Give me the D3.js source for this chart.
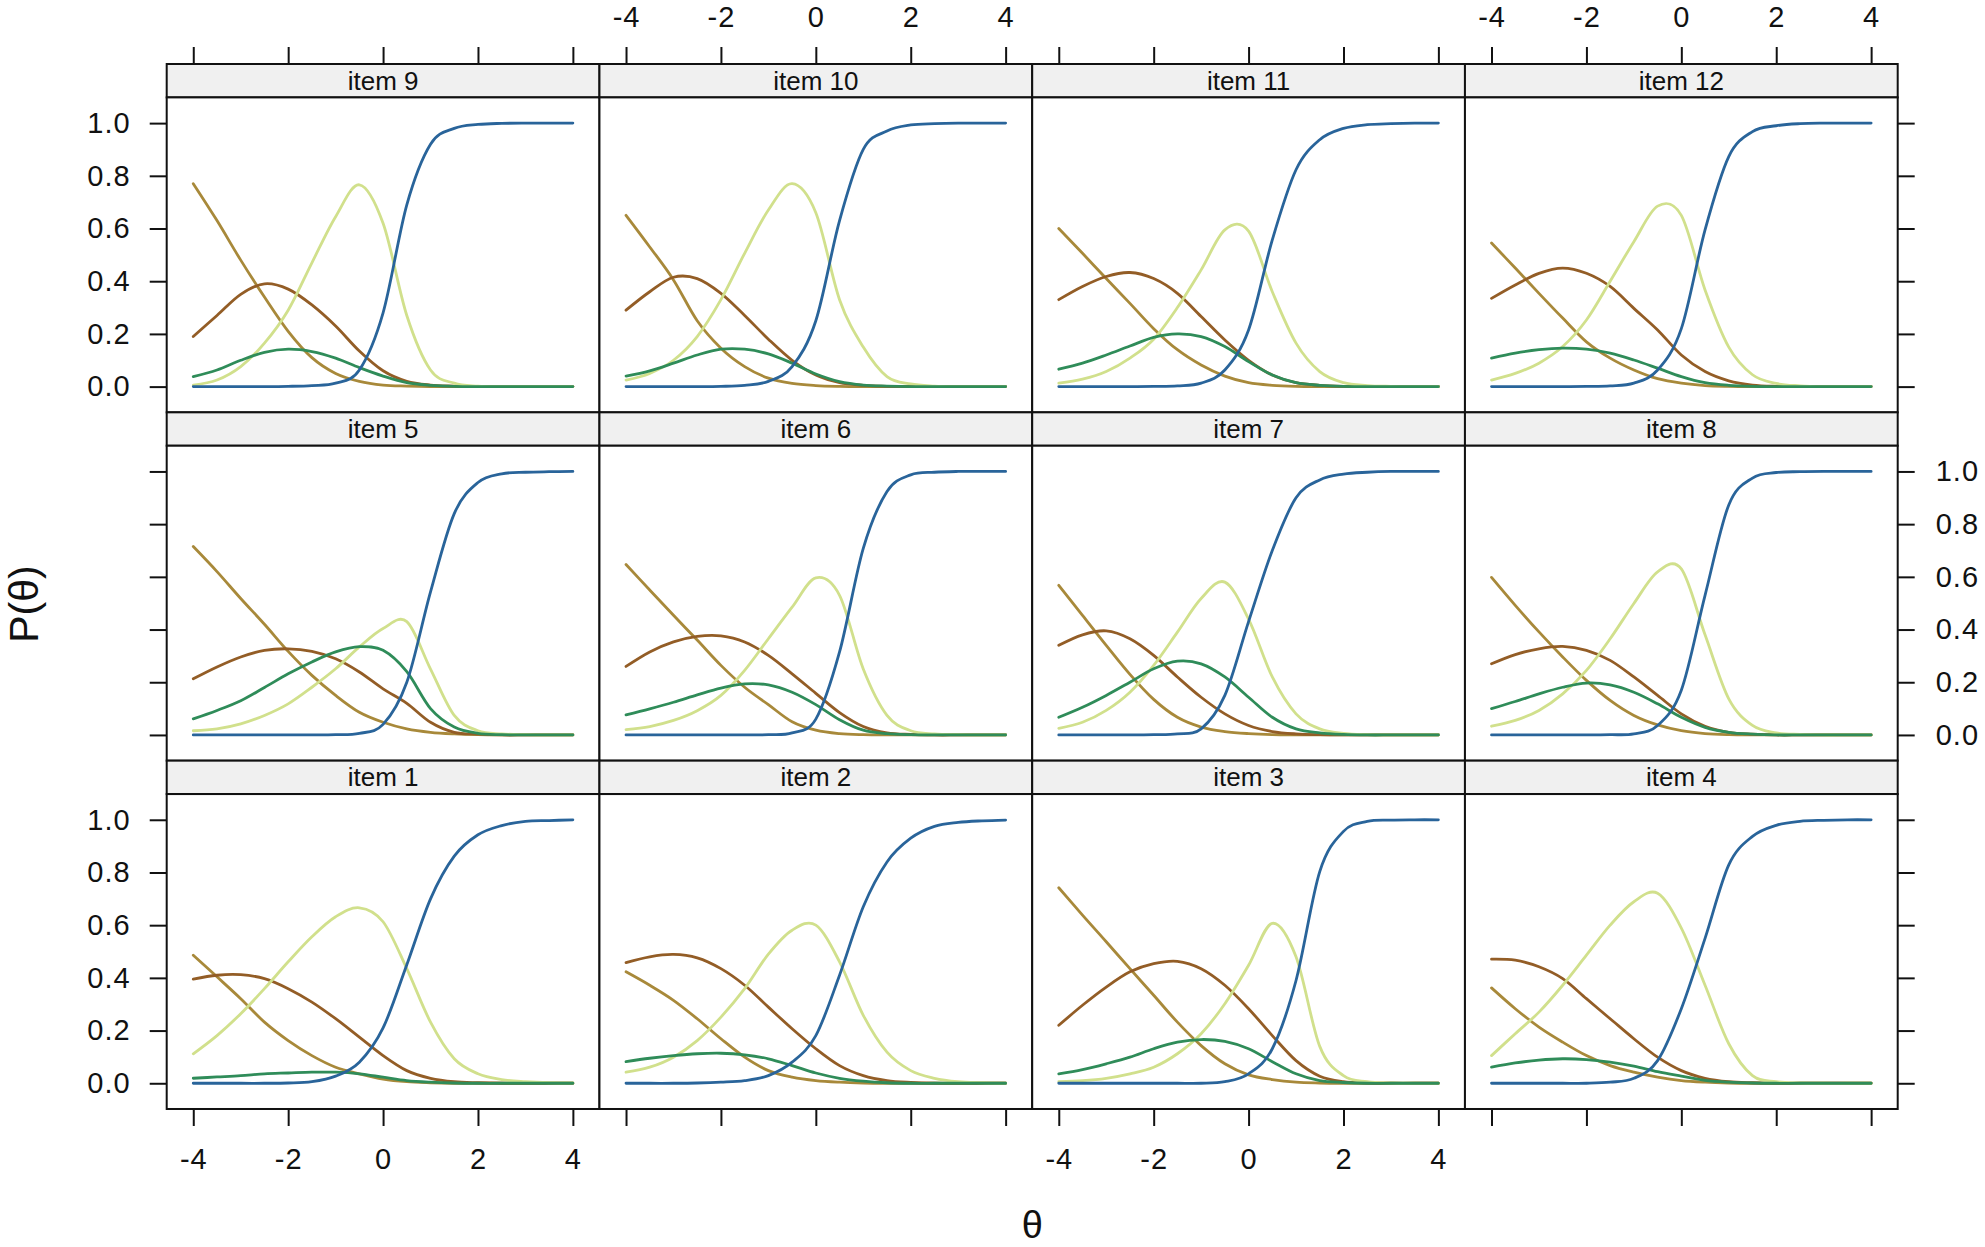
<!DOCTYPE html>
<html><head><meta charset="utf-8">
<script src="https://cdn.jsdelivr.net/npm/d3@7"></script>
<style>
body{margin:0;background:#fff;}
svg{display:block;}
text{font-family:"Liberation Sans",Arial,Helvetica,sans-serif;fill:#111;}
</style>
</head><body>
<svg id="chart" width="1985" height="1247"></svg>
<script>
// theta grid shared by all curves
const theta = [-4,-3.5,-3,-2.5,-2,-1.5,-1,-0.5,0,0.5,1,1.5,2,2.5,3,3.5,4];
// response categories and their colours
const categories = ["cat0","cat1","cat2","cat3","cat4"];
const categoryColors = ["#a8893a","#935d26","#2f8c59","#d1e08c","#29649a"];
const drawOrder = [0,1,3,2,4];
// panel layout, top row first
const layoutRows = [["item 9","item 10","item 11","item 12"],["item 5","item 6","item 7","item 8"],["item 1","item 2","item 3","item 4"]];
const xTicks = [-4,-2,0,2,4];
const yTicks = [0,0.2,0.4,0.6,0.8,1.0];

// each item: [cat0, cat1, cat2, cat3, cat4] probabilities at theta
const item1 = [
 [0.486,0.404,0.321,0.232,0.162,0.105,0.061,0.036,0.016,0.006,0.002,0,0,0,0,0,0],
 [0.395,0.41,0.412,0.397,0.359,0.308,0.245,0.175,0.105,0.048,0.019,0.006,0.002,0,0,0,0],
 [0.019,0.024,0.029,0.036,0.039,0.042,0.042,0.036,0.023,0.01,0.004,0.001,0,0,0,0,0],
 [0.112,0.181,0.264,0.359,0.461,0.556,0.632,0.666,0.613,0.435,0.232,0.093,0.036,0.014,0.006,0.002,0.001],
 [0,0,0,0,0.001,0.006,0.027,0.08,0.21,0.45,0.7,0.862,0.943,0.978,0.994,0.997,1]];
const item2 = [
 [0.423,0.372,0.315,0.245,0.169,0.099,0.048,0.023,0.01,0.004,0.001,0,0,0,0,0,0],
 [0.458,0.48,0.489,0.476,0.435,0.372,0.289,0.207,0.131,0.067,0.029,0.01,0.003,0,0,0,0],
 [0.082,0.095,0.105,0.112,0.114,0.108,0.093,0.067,0.039,0.019,0.008,0.002,0,0,0,0,0],
 [0.042,0.061,0.099,0.162,0.251,0.359,0.49,0.581,0.6,0.461,0.258,0.118,0.048,0.019,0.006,0.002,0],
 [0,0,0,0.001,0.004,0.01,0.029,0.08,0.181,0.41,0.67,0.84,0.93,0.975,0.99,0.996,0.999]];
const item3 = [
 [0.742,0.638,0.537,0.435,0.334,0.232,0.143,0.074,0.032,0.014,0.004,0.001,0,0,0,0,0],
 [0.22,0.296,0.365,0.423,0.454,0.463,0.435,0.372,0.283,0.181,0.086,0.027,0.006,0.001,0,0,0],
 [0.036,0.052,0.074,0.099,0.131,0.156,0.166,0.159,0.131,0.082,0.036,0.01,0.003,0,0,0,0],
 [0.006,0.01,0.019,0.036,0.061,0.112,0.188,0.302,0.448,0.607,0.48,0.14,0.029,0.006,0.001,0,0],
 [0,0,0,0,0,0,0,0.006,0.036,0.131,0.39,0.803,0.956,0.994,0.999,1,1]];
const item4 = [
 [0.362,0.283,0.213,0.156,0.105,0.067,0.042,0.023,0.01,0.004,0.001,0,0,0,0,0,0],
 [0.471,0.467,0.442,0.397,0.321,0.245,0.169,0.099,0.048,0.019,0.006,0.002,0,0,0,0,0],
 [0.061,0.077,0.088,0.093,0.09,0.08,0.065,0.044,0.027,0.011,0.004,0.001,0,0,0,0,0],
 [0.105,0.188,0.27,0.372,0.486,0.6,0.689,0.721,0.589,0.372,0.15,0.029,0.006,0.001,0,0,0],
 [0,0,0,0,0,0.004,0.019,0.086,0.283,0.55,0.829,0.937,0.979,0.994,0.998,1,1]];
const item5 = [
 [0.715,0.62,0.518,0.42,0.317,0.226,0.15,0.086,0.048,0.023,0.01,0.004,0.001,0,0,0,0],
 [0.213,0.258,0.296,0.321,0.327,0.317,0.289,0.239,0.175,0.12,0.048,0.01,0.003,0,0,0,0],
 [0.061,0.093,0.13,0.18,0.232,0.277,0.315,0.335,0.321,0.24,0.1,0.03,0.006,0.001,0,0,0],
 [0.016,0.023,0.042,0.074,0.118,0.181,0.251,0.334,0.404,0.43,0.25,0.074,0.016,0.004,0.001,0,0],
 [0,0,0,0,0,0,0.001,0.006,0.04,0.2,0.543,0.84,0.958,0.991,0.997,0.999,1]];
const item6 = [
 [0.647,0.55,0.454,0.36,0.264,0.181,0.115,0.05,0.018,0.005,0.001,0,0,0,0,0,0],
 [0.26,0.315,0.353,0.374,0.376,0.353,0.302,0.232,0.158,0.085,0.032,0.008,0.002,0,0,0,0],
 [0.076,0.099,0.124,0.152,0.178,0.194,0.19,0.162,0.115,0.058,0.018,0.005,0.001,0,0,0,0],
 [0.02,0.032,0.055,0.092,0.15,0.245,0.365,0.485,0.596,0.53,0.25,0.074,0.016,0.004,0.001,0,0],
 [0,0,0,0,0,0,0.001,0.008,0.06,0.315,0.708,0.924,0.987,0.997,1,1,1]];
const item7 = [
 [0.568,0.454,0.34,0.23,0.135,0.067,0.03,0.013,0.005,0.001,0,0,0,0,0,0,0],
 [0.34,0.38,0.395,0.365,0.302,0.22,0.143,0.08,0.036,0.013,0.004,0.001,0,0,0,0,0],
 [0.067,0.105,0.15,0.2,0.251,0.28,0.27,0.22,0.143,0.067,0.023,0.008,0.002,0,0,0,0],
 [0.025,0.048,0.093,0.162,0.264,0.39,0.518,0.58,0.44,0.22,0.08,0.023,0.006,0.001,0,0,0],
 [0,0,0,0,0.001,0.004,0.023,0.15,0.43,0.7,0.9,0.968,0.99,0.997,1,1,1]];
const item8 = [
 [0.598,0.492,0.391,0.296,0.207,0.131,0.074,0.038,0.016,0.005,0.001,0,0,0,0,0,0],
 [0.27,0.305,0.327,0.336,0.321,0.283,0.22,0.15,0.08,0.033,0.01,0.003,0,0,0,0,0],
 [0.1,0.127,0.156,0.181,0.197,0.19,0.162,0.118,0.067,0.029,0.01,0.003,0,0,0,0,0],
 [0.033,0.055,0.093,0.156,0.245,0.365,0.499,0.619,0.63,0.38,0.137,0.036,0.008,0.002,0,0,0],
 [0,0,0,0,0,0.001,0.004,0.036,0.17,0.53,0.873,0.975,0.996,0.999,1,1,1]];
const item9 = [
 [0.77,0.63,0.48,0.34,0.21,0.11,0.05,0.02,0.006,0.002,0,0,0,0,0,0,0],
 [0.19,0.27,0.35,0.39,0.37,0.31,0.23,0.135,0.06,0.02,0.006,0.002,0,0,0,0,0],
 [0.038,0.063,0.1,0.13,0.142,0.133,0.108,0.072,0.04,0.015,0.005,0.001,0,0,0,0,0],
 [0.006,0.025,0.076,0.165,0.29,0.47,0.645,0.766,0.62,0.27,0.063,0.013,0.002,0,0,0,0],
 [0,0,0,0,0.001,0.004,0.013,0.063,0.28,0.69,0.92,0.98,0.995,0.999,1,1,1]];
const item10 = [
 [0.65,0.53,0.405,0.25,0.146,0.076,0.032,0.012,0.004,0.001,0,0,0,0,0,0,0],
 [0.29,0.36,0.415,0.41,0.354,0.27,0.18,0.1,0.044,0.015,0.005,0.001,0,0,0,0,0],
 [0.04,0.06,0.089,0.12,0.142,0.142,0.124,0.089,0.048,0.019,0.006,0.002,0,0,0,0,0],
 [0.025,0.05,0.1,0.19,0.33,0.506,0.67,0.77,0.66,0.33,0.15,0.038,0.01,0.002,0,0,0],
 [0,0,0,0,0.001,0.005,0.02,0.076,0.25,0.63,0.9,0.97,0.993,0.998,1,1,1]];
const item11 = [
 [0.6,0.506,0.41,0.316,0.22,0.14,0.082,0.04,0.015,0.005,0.001,0,0,0,0,0,0],
 [0.33,0.38,0.418,0.433,0.41,0.354,0.266,0.177,0.1,0.044,0.015,0.005,0.001,0,0,0,0],
 [0.066,0.089,0.12,0.154,0.187,0.2,0.19,0.152,0.095,0.044,0.015,0.005,0.001,0,0,0,0],
 [0.013,0.028,0.057,0.108,0.18,0.3,0.443,0.595,0.59,0.36,0.165,0.057,0.015,0.004,0.001,0,0],
 [0,0,0,0,0.001,0.003,0.013,0.063,0.215,0.557,0.823,0.937,0.98,0.994,0.998,1,1]];
const item12 = [
 [0.545,0.45,0.354,0.26,0.17,0.108,0.063,0.03,0.013,0.004,0.001,0,0,0,0,0,0],
 [0.335,0.386,0.43,0.45,0.43,0.38,0.297,0.215,0.12,0.057,0.022,0.006,0.001,0,0,0,0],
 [0.108,0.127,0.14,0.146,0.142,0.127,0.101,0.07,0.038,0.015,0.005,0.001,0,0,0,0,0],
 [0.025,0.05,0.089,0.152,0.253,0.4,0.55,0.685,0.65,0.367,0.15,0.045,0.012,0.003,0,0,0],
 [0,0,0,0,0.001,0.003,0.013,0.063,0.22,0.595,0.873,0.968,0.99,0.998,1,1,1]];

const itemData = {"item 1":item1,"item 2":item2,"item 3":item3,"item 4":item4,"item 5":item5,"item 6":item6,
  "item 7":item7,"item 8":item8,"item 9":item9,"item 10":item10,"item 11":item11,"item 12":item12};

const svg = d3.select("#chart");
const left0 = 166.7, colW = 432.75, top0 = 64, rowH = 348.33, stripH = 33.4, panelH = rowH - stripH;
const nRows = layoutRows.length, nCols = layoutRows[0].length;

const x = d3.scaleLinear().domain([-4.56, 4.56]).range([0, colW]);
const y = d3.scaleLinear().domain([-0.0976, 1.0976]).range([panelH, 0]);
const line = d3.line().x((d,i)=>x(theta[i])).y(d=>y(d)).curve(d3.curveCardinal.tension(0));

const tickFont = 29, tickLen = 17;
const fmtX = d => String(d);           // plain hyphen-minus like the original
const fmtY = d => d.toFixed(1);
function styleAxis(g){
  g.select(".domain").remove();
  g.selectAll(".tick line").attr("stroke","#111").attr("stroke-width",2);
  g.selectAll(".tick text").attr("font-size",tickFont).attr("fill","#111")
   .attr("letter-spacing",1)
   .style("font-family","'Liberation Sans',Arial,Helvetica,sans-serif");
}

layoutRows.forEach((row, r) => {
  row.forEach((name, c) => {
    const gx = left0 + c*colW, gy = top0 + r*rowH;
    const g = svg.append("g").attr("transform",`translate(${gx},${gy})`);
    // strip
    g.append("rect").attr("x",0).attr("y",0).attr("width",colW).attr("height",stripH)
      .attr("fill","#f0f0f0").attr("stroke","#111").attr("stroke-width",2);
    g.append("text").attr("x",colW/2).attr("y",stripH/2+9).attr("text-anchor","middle")
      .attr("font-size",26).text(name);
    // panel
    const p = g.append("g").attr("transform",`translate(0,${stripH})`);
    p.append("rect").attr("width",colW).attr("height",panelH).attr("fill","#fff");
    const data = itemData[name];
    drawOrder.forEach(k => {
      p.append("path").datum(data[k]).attr("d",line).attr("fill","none")
        .attr("stroke",categoryColors[k]).attr("stroke-width",2.8)
        .attr("stroke-linejoin","round").attr("stroke-linecap","round");
    });
    p.append("rect").attr("width",colW).attr("height",panelH).attr("fill","none")
      .attr("stroke","#111").attr("stroke-width",2);

    // x axes: top row (top side), bottom row (bottom side); labels alternate
    if (r === 0) {
      const labelled = (c % 2 === 1);
      const ax = d3.axisTop(x).tickValues(xTicks).tickSize(tickLen).tickPadding(20)
        .tickFormat(labelled ? fmtX : () => "");
      g.append("g").call(ax).call(styleAxis);
    }
    if (r === nRows-1) {
      const labelled = (c % 2 === 0);
      const ax = d3.axisBottom(x).tickValues(xTicks).tickSize(tickLen).tickPadding(22)
        .tickFormat(labelled ? fmtX : () => "");
      p.append("g").attr("transform",`translate(0,${panelH})`).call(ax).call(styleAxis);
    }
    // y axes: left column and right column; labels alternate
    if (c === 0) {
      const labelled = (r % 2 === 0);
      const ay = d3.axisLeft(y).tickValues(yTicks).tickSize(tickLen).tickPadding(19)
        .tickFormat(labelled ? fmtY : () => "");
      p.append("g").call(ay).call(styleAxis);
    }
    if (c === nCols-1) {
      const labelled = (r % 2 === 1);
      const ay = d3.axisRight(y).tickValues(yTicks).tickSize(tickLen).tickPadding(21)
        .tickFormat(labelled ? fmtY : () => "");
      p.append("g").attr("transform",`translate(${colW},0)`).call(ay).call(styleAxis);
    }
  });
});

// axis titles
svg.append("text").attr("x", left0 + nCols*colW/2).attr("y", 1238).attr("text-anchor","middle")
  .attr("font-size",38).text("θ");
svg.append("text").attr("transform",`translate(38,604) rotate(-90)`)
  .attr("text-anchor","middle").attr("font-size",41).text("P(θ)");
</script>
</body></html>
